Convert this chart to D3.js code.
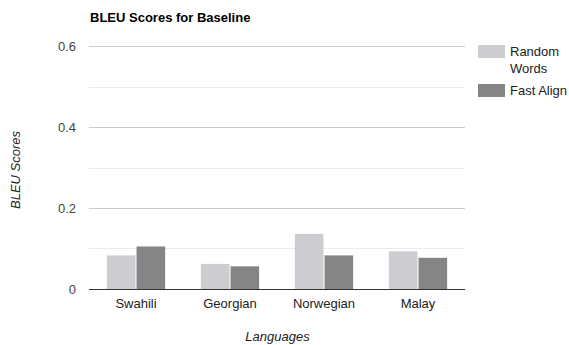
<!DOCTYPE html>
<html>
<head>
<meta charset="utf-8">
<script src="https://cdn.jsdelivr.net/npm/d3@7"></script>
<style>
  html, body { margin: 0; padding: 0; background: #fff; }
  svg { display: block; font-family: "Liberation Sans", Arial, sans-serif; }
</style>
</head>
<body>
<svg id="chart" width="569" height="345"></svg>
<script>
// BLEU scores per language for the two baseline methods
const languages = ["Swahili", "Georgian", "Norwegian", "Malay"];
const seriesNames = ["Random Words", "Fast Align"];
const randomWords = [0.083, 0.062, 0.136, 0.093];
const fastAlign = [0.105, 0.056, 0.083, 0.077];
const yTicks = [0, 0.2, 0.4, 0.6];
const yMinorTicks = [0.1, 0.3, 0.5];
const colors = ["#cdcdd1", "#858585"];

const svg = d3.select("#chart");
const margin = { left: 89, right: 104, top: 46, bottom: 56 };
const W = 569, H = 345;

const x = d3.scaleBand().domain(languages)
  .range([margin.left, W - margin.right]).paddingInner(0.38).paddingOuter(0.19);
const x1 = d3.scaleBand().domain(seriesNames).range([0, x.bandwidth()]).paddingInner(0.035);
const y = d3.scaleLinear().domain([0, 0.6]).range([H - margin.bottom, margin.top]);

// gridlines
svg.append("g").selectAll("line").data(yMinorTicks).join("line")
  .attr("x1", margin.left).attr("x2", W - margin.right)
  .attr("y1", d => Math.round(y(d)) + 0.5).attr("y2", d => Math.round(y(d)) + 0.5)
  .attr("stroke", "#ececec");
svg.append("g").selectAll("line").data(yTicks.filter(d => d > 0)).join("line")
  .attr("x1", margin.left).attr("x2", W - margin.right)
  .attr("y1", d => Math.round(y(d)) + 0.5).attr("y2", d => Math.round(y(d)) + 0.5)
  .attr("stroke", "#cccccc");

// y tick labels
svg.append("g").selectAll("text").data(yTicks).join("text")
  .attr("x", 76).attr("y", d => y(d) + 4.5)
  .attr("text-anchor", "end").attr("font-size", 13).attr("fill", "#444")
  .text(d => d === 0 ? "0" : d3.format(".1f")(d));

// bars
const rows = languages.map((l, i) => ({ lang: l, vals: [randomWords[i], fastAlign[i]] }));
const grp = svg.append("g").selectAll("g").data(rows).join("g")
  .attr("transform", d => `translate(${x(d.lang)},0)`);
grp.selectAll("rect").data(d => d.vals.map((v, j) => ({ v, s: seriesNames[j], j })))
  .join("rect")
  .attr("x", d => x1(d.s)).attr("width", x1.bandwidth())
  .attr("y", d => y(d.v)).attr("height", d => y(0) - y(d.v))
  .attr("fill", d => colors[d.j]);

// baseline
svg.append("line")
  .attr("x1", margin.left).attr("x2", W - margin.right)
  .attr("y1", Math.round(y(0)) + 0.5).attr("y2", Math.round(y(0)) + 0.5)
  .attr("stroke", "#333");

// x tick labels
svg.append("g").selectAll("text").data(languages).join("text")
  .attr("x", d => x(d) + x.bandwidth() / 2).attr("y", 308)
  .attr("text-anchor", "middle").attr("font-size", 13).attr("fill", "#222")
  .text(d => d);

// title
svg.append("text").attr("x", 90).attr("y", 22)
  .attr("font-size", 13).attr("font-weight", "bold").attr("fill", "#000")
  .text("BLEU Scores for Baseline");

// axis titles
svg.append("text").attr("x", 277.5).attr("y", 341)
  .attr("text-anchor", "middle").attr("font-size", 13).attr("font-style", "italic").attr("fill", "#222")
  .text("Languages");
svg.append("text").attr("transform", `translate(20,170) rotate(-90)`)
  .attr("text-anchor", "middle").attr("font-size", 13).attr("font-style", "italic").attr("fill", "#222")
  .text("BLEU Scores");

// legend
const legend = svg.append("g");
const legendLines = [["Random", "Words"], ["Fast Align"]];
const legendY = [45, 84];
seriesNames.forEach((s, i) => {
  legend.append("rect").attr("x", 478).attr("y", legendY[i]).attr("width", 27).attr("height", 13)
    .attr("fill", colors[i]);
  const t = legend.append("text").attr("x", 510).attr("y", legendY[i] + 11)
    .attr("font-size", 13).attr("fill", "#222");
  legendLines[i].forEach((ln, k) => {
    t.append("tspan").attr("x", 510).attr("dy", k === 0 ? 0 : 17).text(ln);
  });
});
</script>
</body>
</html>
